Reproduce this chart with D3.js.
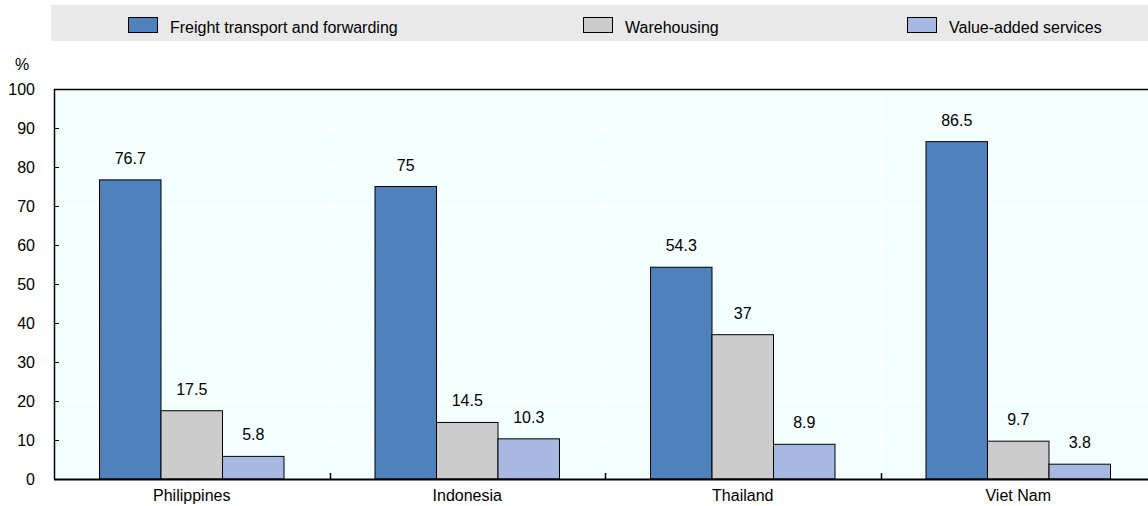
<!DOCTYPE html>
<html>
<head>
<meta charset="utf-8">
<script src="https://cdnjs.cloudflare.com/ajax/libs/d3/7.8.5/d3.min.js"></script>
<style>
  body { margin: 0; background: #fff; }
  svg text { font-family: "Liberation Sans", Arial, sans-serif; fill: #000; font-size: 16px; }
</style>
</head>
<body>
<div id="chart"></div>
<script>
// chart data
var countries = ["Philippines", "Indonesia", "Thailand", "Viet Nam"];
var seriesNames = ["Freight transport and forwarding", "Warehousing", "Value-added services"];
var freight = [76.7, 75, 54.3, 86.5];
var warehousing = [17.5, 14.5, 37, 9.7];
var valueAdded = [5.8, 10.3, 8.9, 3.8];
var yTicks = [0, 10, 20, 30, 40, 50, 60, 70, 80, 90, 100];

var colors = ["#4F81BD", "#CCCCCC", "#A7B9E3"];
var allSeries = [freight, warehousing, valueAdded];

var W = 1148, H = 506;
// plot edges (don't use "top", it's window.top)
var pLeft = 54, pTop = 89, pBottom = 479;
var bandW = 275.5;
var pRight = pLeft + bandW * countries.length;

var svg = d3.select("#chart").append("svg").attr("width", W).attr("height", H);

// legend band
svg.append("rect").attr("x", 51).attr("y", 5).attr("width", W - 51).attr("height", 36).attr("fill", "#E9E9E9");
var legX = [128, 583, 907];
seriesNames.forEach(function(s, i) {
  svg.append("rect").attr("x", legX[i] + 0.5).attr("y", 17.5).attr("width", 29).attr("height", 15)
    .attr("fill", colors[i]).attr("stroke", "#000").attr("stroke-width", 1);
  svg.append("text").attr("x", legX[i] + 42).attr("y", 33).text(s);
});

var x = d3.scaleBand().domain(countries).range([pLeft, pRight]).paddingInner(0).paddingOuter(0);
var y = d3.scaleLinear().domain([0, 100]).range([pBottom, pTop]);

// plot background
svg.append("rect").attr("x", pLeft).attr("y", pTop).attr("width", pRight - pLeft).attr("height", pBottom - pTop).attr("fill", "#F4FFFF");

// grid lines
svg.selectAll(".hgrid").data(yTicks.slice(1, -1)).enter().append("line")
  .attr("x1", pLeft).attr("x2", pRight)
  .attr("y1", function(d) { return Math.round(y(d)) + 0.5; })
  .attr("y2", function(d) { return Math.round(y(d)) + 0.5; })
  .attr("stroke", "#fff").attr("stroke-width", 1.5);
svg.selectAll(".vgrid").data(countries.slice(1)).enter().append("line")
  .attr("x1", function(d) { return Math.round(x(d)) + 0.5; })
  .attr("x2", function(d) { return Math.round(x(d)) + 0.5; })
  .attr("y1", pTop).attr("y2", pBottom)
  .attr("stroke", "#fff").attr("stroke-width", 1.5);

// bars
var groupW = 184.5;
var inner = d3.scaleBand().domain(d3.range(seriesNames.length)).range([0, groupW]);
var barData = [];
countries.forEach(function(c, ci) {
  allSeries.forEach(function(s, si) {
    barData.push({ country: c, s: si, v: s[ci] });
  });
});
var groupOff = (bandW - groupW) / 2;

svg.selectAll(".bar").data(barData).enter().append("rect")
  .attr("x", function(d) { return x(d.country) + groupOff + inner(d.s); })
  .attr("y", function(d) { return y(d.v); })
  .attr("width", inner.bandwidth())
  .attr("height", function(d) { return y(0) - y(d.v); })
  .attr("fill", function(d) { return colors[d.s]; })
  .attr("stroke", "#000").attr("stroke-width", 1);

svg.selectAll(".lbl").data(barData).enter().append("text")
  .attr("x", function(d) { return x(d.country) + groupOff + inner(d.s) + inner.bandwidth() / 2; })
  .attr("y", function(d) { return y(d.v) - 16; })
  .attr("text-anchor", "middle")
  .text(function(d) { return d.v; });

// axes frame
svg.append("line").attr("x1", pLeft).attr("x2", pRight).attr("y1", pTop + 0.5).attr("y2", pTop + 0.5).attr("stroke", "#000").attr("stroke-width", 1.5);
svg.append("line").attr("x1", pLeft + 0.5).attr("x2", pLeft + 0.5).attr("y1", pTop).attr("y2", pBottom).attr("stroke", "#000").attr("stroke-width", 1.5);
svg.append("line").attr("x1", pLeft).attr("x2", pRight).attr("y1", pBottom + 0.5).attr("y2", pBottom + 0.5).attr("stroke", "#000").attr("stroke-width", 2);

// y ticks
svg.selectAll(".ytick").data(yTicks.slice(1, -1)).enter().append("line")
  .attr("x1", pLeft).attr("x2", pLeft + 5)
  .attr("y1", function(d) { return Math.round(y(d)) + 0.5; })
  .attr("y2", function(d) { return Math.round(y(d)) + 0.5; })
  .attr("stroke", "#000").attr("stroke-width", 1);
svg.selectAll(".ylbl").data(yTicks).enter().append("text")
  .attr("x", 35).attr("y", function(d) { return y(d) + 6; })
  .attr("text-anchor", "end")
  .text(function(d) { return d; });
svg.append("text").attr("x", 22).attr("y", 70).attr("text-anchor", "middle").text("%");

// x ticks (between categories)
svg.selectAll(".xtick").data(countries.slice(1)).enter().append("line")
  .attr("x1", function(d) { return Math.round(x(d)) + 0.5; })
  .attr("x2", function(d) { return Math.round(x(d)) + 0.5; })
  .attr("y1", pBottom).attr("y2", pBottom - 6)
  .attr("stroke", "#000").attr("stroke-width", 1.5);
svg.selectAll(".xlbl").data(countries).enter().append("text")
  .attr("x", function(d) { return x(d) + bandW / 2; })
  .attr("y", 501).attr("text-anchor", "middle")
  .text(function(d) { return d; });
</script>
</body>
</html>
